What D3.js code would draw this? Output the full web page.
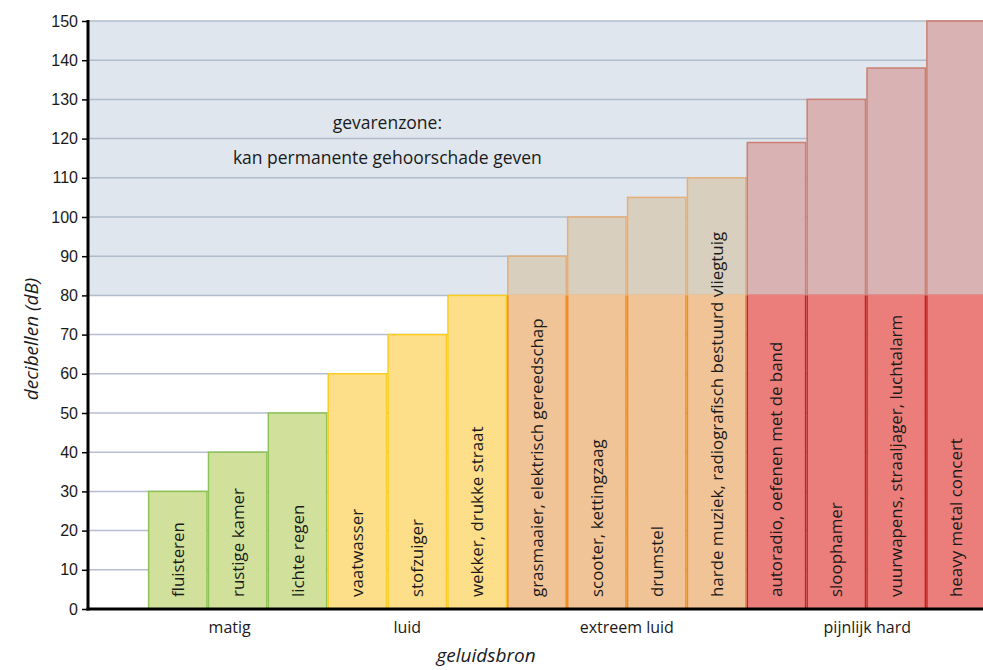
<!DOCTYPE html>
<html>
<head>
<meta charset="utf-8">
<script src="https://cdn.jsdelivr.net/npm/d3@7"></script>
<style>
  body { margin: 0; background: #fff; }
  svg { display: block; font-family: "Open Sans", "Noto Sans", sans-serif; }
  .tick text { font-size: 16px; fill: #1a1a1a; }
  .barlabel { font-size: 16.9px; fill: #1a1a1a; }
  .grouplabel { font-size: 16px; fill: #1a1a1a; }
  .title { font-size: 19px; font-style: italic; fill: #1a1a1a; }
  .note { font-size: 17.5px; fill: #1a1a1a; }
</style>
</head>
<body>
<div id="chart"></div>
<script>
const sources = ["", "fluisteren", "rustige kamer", "lichte regen", "vaatwasser", "stofzuiger",
    "wekker, drukke straat", "grasmaaier, elektrisch gereedschap", "scooter, kettingzaag", "drumstel",
    "harde muziek, radiografisch bestuurd vliegtuig", "autoradio, oefenen met de band", "sloophamer",
    "vuurwapens, straaljager, luchtalarm", "heavy metal concert"];
const decibels = [null, 30, 40, 50, 60, 70, 80, 90, 100, 105, 110, 119, 130, 138, 150];
const levels = [null, "matig", "matig", "matig", "luid", "luid", "luid", "extreem luid", "extreem luid",
    "extreem luid", "extreem luid", "pijnlijk hard", "pijnlijk hard", "pijnlijk hard", "pijnlijk hard"];
const groups = ["matig", "luid", "extreem luid", "pijnlijk hard"];
const yTicks = d3.range(0, 151, 10);
const dangerFrom = 80, dangerTo = 150;
const noteLines = [{text: "gevarenzone:", db: 124}, {text: "kan permanente gehoorschade geven", db: 115}];

const fills = {"matig": "#d1e19c", "luid": "#fddf89", "extreem luid": "#f0c497", "pijnlijk hard": "#eb7d7a"};
const strokes = {"matig": "#8dc354", "luid": "#fbcc24", "extreem luid": "#f08c1d", "pijnlijk hard": "#c42421"};
const fadeFills = {"extreem luid": "#d9cfbe", "pijnlijk hard": "#d9b3b3"};
const fadeStrokes = {"extreem luid": "#e6ae79", "pijnlijk hard": "#cc7f72"};

const width = 983, height = 670;
const margin = {top: 21, left: 88, bottom: 61};
const plotRight = 986;

const svg = d3.select("#chart").append("svg")
    .attr("width", width)
    .attr("height", height);

const x = d3.scaleBand()
    .domain(sources)
    .range([margin.left, plotRight])
    .padding(0);

const y = d3.scaleLinear()
    .domain([0, 150])
    .range([height - margin.bottom, margin.top]);

// danger zone background
svg.append("rect")
    .attr("x", margin.left)
    .attr("width", plotRight - margin.left)
    .attr("y", y(dangerTo))
    .attr("height", y(dangerFrom) - y(dangerTo))
    .attr("fill", "#dfe6ee");

// grid lines
svg.selectAll(".rule")
    .data(yTicks.filter(d => d > 0))
    .enter().append("line")
    .attr("class", "rule")
    .attr("x1", margin.left)
    .attr("x2", plotRight)
    .attr("y1", d => y(d))
    .attr("y2", d => y(d))
    .attr("stroke", d => d >= dangerFrom ? "#b0bccb" : "#b8bdd3")
    .attr("stroke-width", 1.5);

const bars = sources.map((s, i) => ({name: s, value: decibels[i], level: levels[i]})).filter(d => d.value !== null);
const high = bars.filter(d => d.value > dangerFrom);
const low = bars.filter(d => d.value <= dangerFrom);
const inset = 0.75;

// bars that stay below the danger zone
svg.selectAll(".bar")
    .data(low)
    .enter().append("rect")
    .attr("class", "bar")
    .attr("x", d => x(d.name) + inset)
    .attr("width", x.bandwidth() - inset * 2)
    .attr("y", d => y(d.value))
    .attr("height", d => y(0) - y(d.value))
    .attr("fill", d => fills[d.level])
    .attr("stroke", d => strokes[d.level])
    .attr("stroke-width", 1.5);

// upper part of tall bars (inside the danger zone)
svg.selectAll(".barTop")
    .data(high)
    .enter().append("rect")
    .attr("class", "barTop")
    .attr("x", d => x(d.name) + inset)
    .attr("width", x.bandwidth() - inset * 2)
    .attr("y", d => y(d.value))
    .attr("height", d => y(dangerFrom) - y(d.value))
    .attr("fill", d => fadeFills[d.level])
    .attr("stroke", d => fadeStrokes[d.level])
    .attr("stroke-width", 1.5);

// lower part of tall bars: fill, then only the side edges
svg.selectAll(".barLow")
    .data(high)
    .enter().append("rect")
    .attr("class", "barLow")
    .attr("x", d => x(d.name) + inset)
    .attr("width", x.bandwidth() - inset * 2)
    .attr("y", y(dangerFrom) - 0.75)
    .attr("height", y(0) - y(dangerFrom) + 0.75)
    .attr("fill", d => fills[d.level]);

svg.selectAll(".barSide")
    .data(high)
    .enter().append("path")
    .attr("class", "barSide")
    .attr("d", d => {
        const x0 = x(d.name) + inset, x1 = x(d.name) + x.bandwidth() - inset;
        return `M${x0},${y(0)}V${y(dangerFrom)}M${x1},${y(dangerFrom)}V${y(0)}`;
    })
    .attr("fill", "none")
    .attr("stroke", d => strokes[d.level])
    .attr("stroke-width", 1.5);

svg.selectAll(".barlabel")
    .data(bars)
    .enter().append("text")
    .attr("class", "barlabel")
    .attr("transform", d => `translate(${x(d.name) + x.bandwidth() / 2 + 6},${y(0) - 12}) rotate(-90)`)
    .text(d => d.name);

// note in danger zone
svg.selectAll(".note")
    .data(noteLines)
    .enter().append("text")
    .attr("class", "note")
    .attr("x", x("stofzuiger"))
    .attr("y", d => y(d.db))
    .attr("dy", "0.35em")
    .attr("text-anchor", "middle")
    .text(d => d.text);

// axes
const yAxis = d3.axisLeft(y).tickValues(yTicks).tickSize(6).tickPadding(4);
const gy = svg.append("g")
    .attr("transform", `translate(${margin.left},0)`)
    .call(yAxis);
gy.select(".domain").remove();
gy.selectAll(".tick line").attr("stroke", "#000").attr("stroke-width", 1.5);

svg.append("line")
    .attr("x1", margin.left).attr("x2", margin.left)
    .attr("y1", y(150) - 1).attr("y2", y(0) + 1.5)
    .attr("stroke", "#000").attr("stroke-width", 3);
svg.append("line")
    .attr("x1", margin.left - 1.5).attr("x2", plotRight)
    .attr("y1", y(0)).attr("y2", y(0))
    .attr("stroke", "#000").attr("stroke-width", 3);

// group labels, centred under their bars (the first two sit a little to the left in the original)
const groupShift = {"matig": -8, "luid": -10, "extreem luid": 0, "pijnlijk hard": 1};
svg.selectAll(".grouplabel")
    .data(groups)
    .enter().append("text")
    .attr("class", "grouplabel")
    .attr("x", g => {
        const members = bars.filter(d => d.level === g);
        return (x(members[0].name) + x(members[members.length - 1].name) + x.bandwidth()) / 2 + groupShift[g];
    })
    .attr("y", y(0) + 24)
    .attr("text-anchor", "middle")
    .text(g => g);

svg.append("text")
    .attr("class", "title")
    .attr("transform", `translate(38,339) rotate(-90)`)
    .attr("text-anchor", "middle")
    .text("decibellen (dB)");

svg.append("text")
    .attr("class", "title")
    .attr("x", 486)
    .attr("y", 662)
    .attr("text-anchor", "middle")
    .text("geluidsbron");
</script>
</body>
</html>
